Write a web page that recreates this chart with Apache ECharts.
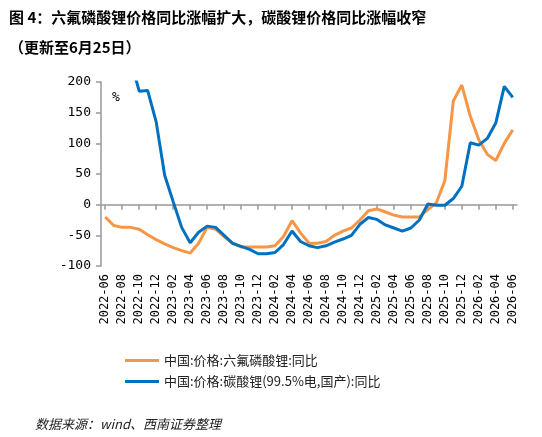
<!DOCTYPE html><html><head><meta charset="utf-8"><script src="https://cdn.jsdelivr.net/npm/echarts@6/dist/echarts.min.js"></script>
<style>html,body{margin:0;padding:0;background:#fff}#c{width:542px;height:437px}</style></head><body><div id="c"></div><script>
const categories=[];for(let y=2022,m=6;!(y===2026&&m>6);){categories.push(y+'-'+String(m).padStart(2,'0'));m++;if(m>12){m=1;y++;}}
const lipf6=[-20,-34,-37,-37,-40,-49,-57,-64,-70,-75,-79,-63,-37,-40,-52,-63,-69,-69,-69,-69,-67,-52,-26,-46,-63,-63,-60,-50,-43,-38,-25,-10,-7,-12,-17,-20,-20,-20,-8,3,39,169,195,144,106,82,72,100,122];
const li2co3=[300,330,300,235,185,186,135,48,5,-37,-62,-45,-35,-37,-50,-63,-68,-73,-80,-80,-78,-65,-43,-60,-67,-70,-67,-61,-56,-50,-32,-21,-24,-33,-38,-43,-38,-25,1,-1,-1,10,30,101,97,108,133,193,175];
const yTicks=[-100,-50,0,50,100,150,200];
const names=['中国:价格:六氟磷酸锂:同比','中国:价格:碳酸锂(99.5%电,国产):同比'];
const ch=echarts.init(document.getElementById('c'));
const mono='DejaVu Sans Mono';
ch.setOption({animation:false,
title:[{text:'图 4：六氟磷酸锂价格同比涨幅扩大，碳酸锂价格同比涨幅收窄',left:4,top:5,textStyle:{fontSize:15,fontWeight:'bold',color:'#000',fontFamily:'Noto Sans CJK SC'}},
{text:'（更新至6月25日）',left:4,top:35,textStyle:{fontSize:15,fontWeight:'bold',color:'#000',fontFamily:'Noto Sans CJK SC'}},
{text:'数据来源：wind、西南证券整理',left:30,top:413,textStyle:{fontSize:13,fontStyle:'italic',fontWeight:'normal',color:'#222',fontFamily:'Noto Sans CJK SC'}},
{text:'%',left:107,top:86,textStyle:{fontSize:13,fontWeight:'normal',color:'#000',fontFamily:mono}}],
legend:{orient:'vertical',left:120,top:349,itemGap:8,itemWidth:34,itemHeight:3,icon:'rect',textStyle:{fontSize:13,color:'#222',fontFamily:'Noto Sans CJK SC'},data:names},
grid:{left:101,right:25,top:82,bottom:171},
xAxis:[{type:'category',data:categories,boundaryGap:true,position:'bottom',axisLine:{show:false,onZero:false},axisTick:{show:false},
axisLabel:{rotate:90,interval:1,fontSize:12,fontFamily:mono,color:'#000',margin:8}},
{type:'category',data:categories,boundaryGap:true,position:'bottom',axisLine:{show:true,onZero:true,lineStyle:{color:'#999',width:1.5}},axisTick:{show:true,alignWithLabel:true,interval:1,length:5,lineStyle:{color:'#999',width:1.5}},axisLabel:{show:false}}],
yAxis:{type:'value',min:-100,max:200,interval:50,axisLine:{show:true,lineStyle:{color:'#999',width:1.5}},axisTick:{show:true,length:5,lineStyle:{color:'#999',width:1.5}},splitLine:{show:false},
axisLabel:{fontSize:13,fontFamily:mono,color:'#000',margin:10}},
series:[{name:names[0],type:'line',data:lipf6,showSymbol:false,lineStyle:{color:'#F79646',width:3},itemStyle:{color:'#F79646'}},
{name:names[1],type:'line',data:li2co3,showSymbol:false,clip:true,lineStyle:{color:'#0070C0',width:3},itemStyle:{color:'#0070C0'}}]});
</script></body></html>
